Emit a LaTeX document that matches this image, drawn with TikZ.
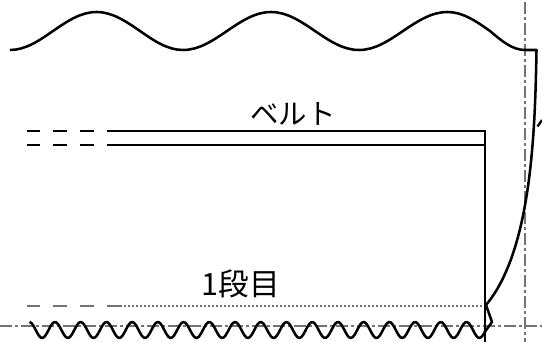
\documentclass[tikz,border=0pt]{standalone}
\usepackage{fontspec}
\newfontfamily\jpfont{Noto Sans CJK JP}
\tikzset{
  x=0.75pt,y=-0.75pt,
  blackline/.style={draw=black,line width=1.9pt,line join=miter},
  thinline/.style={draw=black,line width=1.7pt},
  guide/.style={draw=black!55,line width=1.7pt,dash pattern=on 9pt off 2.25pt on 2.25pt off 2.25pt},
  graydash/.style={draw=black!55,line width=1.8pt},
  graydot/.style={draw=black!55,line width=1.5pt,dash pattern=on 1.4pt off 1.6pt},
  beltlabel/.style={font=\jpfont\fontsize{21.3pt}{24pt}\selectfont,inner sep=0pt,text=black},
  rowlabel/.style={font=\jpfont\fontsize{23pt}{26pt}\selectfont,inner sep=0pt,text=black}
}
\begin{document}
\begin{tikzpicture}
\useasboundingbox[fill=white] (0,0) rectangle (542,342);
% guides
\draw[guide] (0,326) -- (542,326);
\draw[guide] (525,2) -- (525,342);
% first-row line
\foreach \a/\b in {27/40,53/67,80/94,107/122}{\draw[graydash] (\a,306) -- (\b,306);}
\draw[graydot] (124,306) -- (485,306);
% belt
\foreach \a/\b in {27/40,53/67,80/94}{
  \draw[thinline] (\a,131) -- (\b,131);
  \draw[thinline] (\a,145) -- (\b,145);
}
\draw[thinline] (107,131) -- (485,131);
\draw[thinline] (107,145) -- (485,145);
\draw[blackline] (485,130) -- (485,342);
% top wave and side
\draw[blackline,line join=round]
  (10,50) cos (53,31) sin (96.5,12) cos (140,31) sin (183,50) cos (227,31) sin (271,12)
  cos (315,31) sin (359,50) cos (403,31) sin (447.5,12) cos (490,31) sin (525,50)
  -- (536.5,50)
  .. controls (535,130) and (532,250) .. (486,305)
  -- (492,322) -- (484,333);
% bottom wave
\draw[blackline,line join=round] plot[domain=29.5:484,samples=240,smooth] (\x,{330-8*cos((\x-55)/25.72*360)});
% clipped mark at the right edge
\draw[thinline] (537.5,126.5) -- (542,120);
% labels
\node[beltlabel] (belt) at (293,114) {ベルト};
\node[rowlabel] (row) at (241,284) {1段目};
\end{tikzpicture}
\end{document}
